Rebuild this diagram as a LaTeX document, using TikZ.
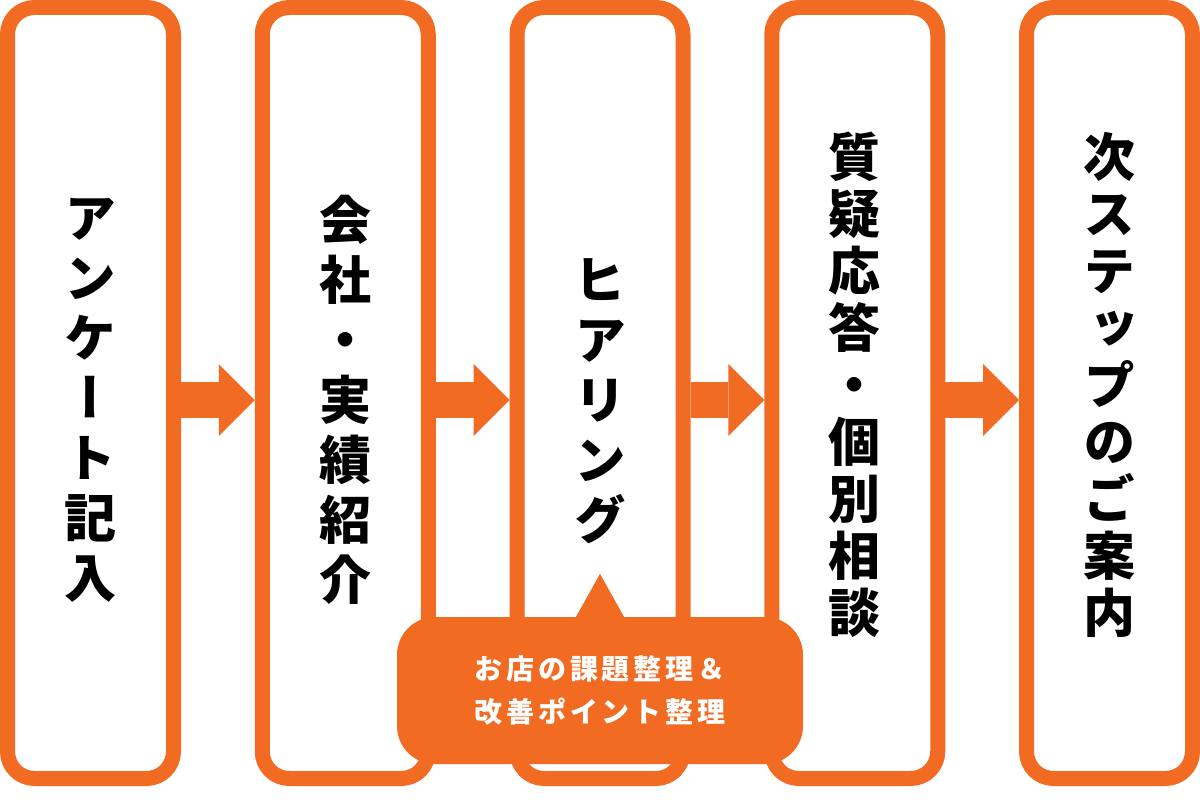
\documentclass[tikz,border=0pt]{standalone}
\usepackage{fontspec}
\usepackage{tikz}
\usetikzlibrary{arrows.meta,calc}
\newfontfamily\cjk[RawFeature=+vert]{Noto Sans CJK JP}
\newfontfamily\cjknote[LetterSpace=14]{Noto Sans CJK JP}
\definecolor{accent}{RGB}{241,107,35}

\begin{document}
\begin{tikzpicture}[x=1pt, y=-1pt,
  stagebox/.style={draw=accent, line width=15pt, rounded corners=27pt, fill=white,
    minimum width=166pt, minimum height=771pt, inner sep=0pt},
  stagetext/.style={align=center, inner sep=0pt,
    font=\cjk\bfseries\fontsize{52}{#1}\selectfont},
  stagetext/.default=60,
  flowarrow/.style={accent, line width=36pt,
    -{Triangle[length=36pt, width=72pt, line width=0pt]}},
  notebox/.style={fill=accent, rounded corners=38pt, minimum width=406pt,
    minimum height=147pt, inner sep=0pt, text=white, align=center,
    font=\cjknote\bfseries\fontsize{28}{43}\selectfont}]
  \useasboundingbox (0,0) rectangle (1200,800);
  \node [stagebox] (b1) at (  90.5 , 393) {};
  \node [stagebox] (b2) at ( 345.25, 393) {};
  \node [stagebox] (b3) at ( 600   , 393) {};
  \node [stagebox] (b4) at ( 854.75, 393) {};
  \node [stagebox] (b5) at (1109.5 , 393) {};
  \node [stagetext]    (t1) at ($(b1.center)+(0,7)$)  {ア\\ン\\ケ\\ー\\ト\\記\\入};
  \node [stagetext]    (t2) at ($(b2.center)+(0,7)$)  {会\\社\\・\\実\\績\\紹\\介};
  \node [stagetext]    (t3) at ($(b3.center)+(0,8)$)  {ヒ\\ア\\リ\\ン\\グ};
  \node [stagetext=57] (t4) at ($(b4.center)+(0,-8)$) {質\\疑\\応\\答\\・\\個\\別\\相\\談};
  \node [stagetext=57] (t5) at ($(b5.center)+(0,-8)$) {次\\ス\\テ\\ッ\\プ\\の\\ご\\案\\内};
  \draw [flowarrow] ($(b1.east)+(0,7)$) -- ($(b2.west)+(0,7)$);
  \draw [flowarrow] ($(b2.east)+(0,7)$) -- ($(b3.west)+(0,7)$);
  \draw [flowarrow] ($(b3.east)+(0,7)$) -- ($(b4.west)+(0,7)$);
  \draw [flowarrow] ($(b4.east)+(0,7)$) -- ($(b5.west)+(0,7)$);
  % callout under the hearing step
  \node [notebox] (note) at (600, 690.5) {お店の課題整理＆\\改善ポイント整理};
  \fill [accent] (note.north) +(-24,0) -- +(0,-43) -- +(24,0) -- cycle;
\end{tikzpicture}
\end{document}
